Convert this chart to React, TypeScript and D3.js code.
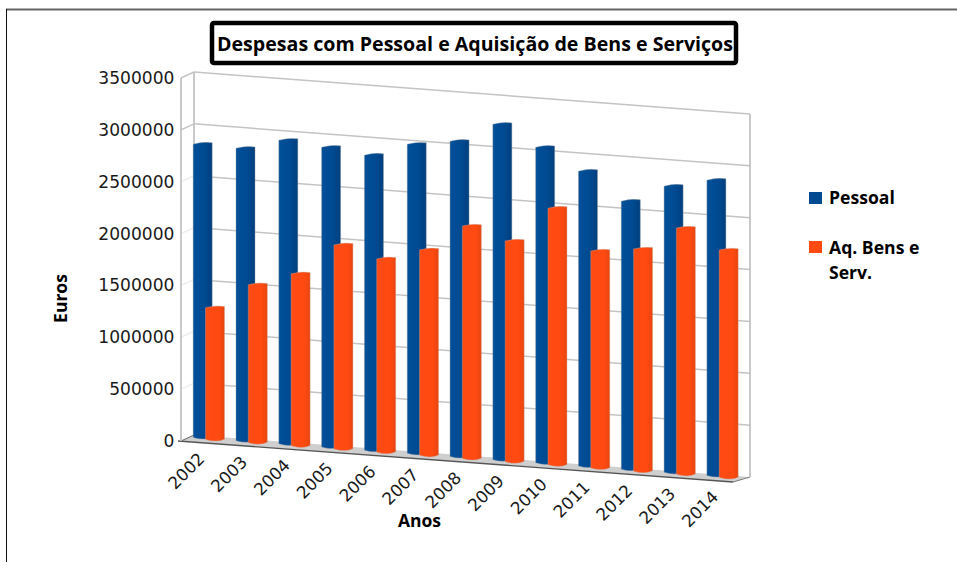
import React from "react";
import * as d3 from "d3";

const years = ["2002","2003","2004","2005","2006","2007","2008","2009","2010","2011","2012","2013","2014"];
const pessoal = [2856000,2847000,2955000,2918000,2872000,3008000,3067000,3261000,3070000,2870000,2612000,2787000,2875000];
const aquisicao = [1298000,1550000,1686000,1995000,1891000,2008000,2269000,2155000,2502000,2120000,2170000,2402000,2221000];
const yTicks = [0,500000,1000000,1500000,2000000,2500000,3000000,3500000];
const title = "Despesas com Pessoal e Aquisição de Bens e Serviços";
const BLUE = "#004a91";
const ORANGE = "#ff4a12";
const FONT = "'Open Sans', sans-serif";

// frame geometry
const backL = 194, backR = 750, frontL = 181, frontR = 733;
const backY0L = 435, frontY0L = 441, backY0R = 477, frontY0R = 482;
const h = d3.scaleLinear().domain([0, 3500000]).range([0, 363]);
const band = d3.scaleBand<string>().domain(years).range([172.5, 729]).paddingInner(0).paddingOuter(0);
const slope = (477 - 439) / (band("2014")! - band("2002")!);
const baseBlue = (y: string) => 439 + (band(y)! - band("2002")!) * slope;

function barPath(x: number, w: number, top: number, bottom: number) {
  const c = 2, b = 3;
  return `M${x},${top + c * 0.7}Q${x + w * 0.5},${top - c * 0.7} ${x + w},${top}L${x + w},${bottom - b * 0.6}Q${x + w * 0.6},${bottom + b * 0.6} ${x},${bottom - b * 0.5}Z`;
}

export default function App() {
  const wallY = (v: number, x: number) => backY0L + ((x - backL) / (backR - backL)) * (backY0R - backY0L) - h(v);
  const sideOff = frontY0L - backY0L;
  return (
    <svg width={957} height={562} style={{ position: "absolute", left: 0, top: 0, background: "#fff" }} fontFamily={FONT}>
      <defs>
        <linearGradient id="gb" x1="0" x2="1" y1="0" y2="0">
          <stop offset="0" stopColor="#005099" />
          <stop offset="0.6" stopColor={BLUE} />
          <stop offset="1" stopColor="#003f7d" />
        </linearGradient>
        <linearGradient id="go" x1="0" x2="1" y1="0" y2="0">
          <stop offset="0" stopColor="#ff4c14" />
          <stop offset="0.7" stopColor={ORANGE} />
          <stop offset="1" stopColor="#e8450f" />
        </linearGradient>
      </defs>
      <line x1={6} y1={9.5} x2={957} y2={9.5} stroke="#666" strokeWidth={2} />
      <line x1={6.5} y1={9} x2={6.5} y2={562} stroke="#111" strokeWidth={1} />
      <rect x={212} y={23} width={524} height={40} rx={2} fill="#fff" stroke="#000" strokeWidth={4.5} />
      <text x={475} y={51} textAnchor="middle" fontSize={20} fontWeight={700} fill="#000" textLength={516} lengthAdjust="spacingAndGlyphs">{title}</text>

      {/* floor */}
      <polygon points={`${frontL},${frontY0L} ${backL},${backY0L} ${backR},${backY0R} ${frontR},${frontY0R}`} fill="#cfcfcf" />
      <line x1={frontL - 3} y1={frontY0L} x2={frontR} y2={frontY0R} stroke="#555" strokeWidth={1.4} />
      <line x1={frontL} y1={frontY0L} x2={backL} y2={backY0L} stroke="#666" strokeWidth={1} />
      <line x1={frontR} y1={frontY0R} x2={backR} y2={backY0R} stroke="#777" strokeWidth={1} />

      {/* walls */}
      {yTicks.slice(1).map((t) => (
        <g key={t} fill="none" strokeWidth={1.5}>
          <line x1={frontL} y1={wallY(t, backL) + sideOff} x2={backL} y2={wallY(t, backL)} stroke={t >= 3000000 ? "#c4c4c4" : "#eeeeee"} />
          <line x1={backL} y1={wallY(t, backL)} x2={backR} y2={wallY(t, backR)} stroke="#c4c4c4" />
        </g>
      ))}
      <g stroke="#c0c0c0" strokeWidth={1.7}>
        <line x1={frontL} y1={frontY0L} x2={frontL} y2={wallY(3500000, backL) + sideOff} />
        <line x1={backL} y1={backY0L} x2={backL} y2={wallY(3500000, backL)} />
        <line x1={backR} y1={backY0R} x2={backR} y2={wallY(3500000, backR)} />
      </g>

      {/* bars */}
      {years.map((y, i) => {
        const x = band(y)!;
        const base = baseBlue(y);
        return (
          <g key={y}>
            <path d={barPath(x + 20.7, 19, base - h(pessoal[i]), base)} fill="url(#gb)" stroke="#8a94a0" strokeWidth={0.4} />
            <path d={barPath(x + 33, 19, base + 2 - h(aquisicao[i]), base + 2)} fill="url(#go)" stroke="#c9a090" strokeWidth={0.4} />
          </g>
        );
      })}

      {/* y axis */}
      {yTicks.map((t) => (
        <text key={t} x={174.5} y={wallY(t, backL) + sideOff + 6} textAnchor="end" fontSize={17.1} fontFamily="'DejaVu Sans', sans-serif" fill="#1a1a1a">{t}</text>
      ))}
      {/* x axis */}
      {years.map((y) => {
        const x = band(y)! + 33;
        const ty = baseBlue(y) + 21;
        return (
          <text key={y} transform={`translate(${x},${ty}) rotate(-45)`} textAnchor="end" fontSize={16.8} fontFamily="'DejaVu Sans', sans-serif" fill="#1a1a1a">{y}</text>
        );
      })}
      <text x={419.5} y={527} textAnchor="middle" fontSize={17.5} fontWeight={700} fill="#000">Anos</text>
      <text transform="translate(67,298.5) rotate(-90)" textAnchor="middle" fontSize={17.5} fontWeight={700} fill="#000">Euros</text>

      {/* legend */}
      <rect x={809} y={192} width={13} height={12} fill={BLUE} />
      <text x={829} y={204} fontSize={17.6} fontWeight={700} fill="#000">Pessoal</text>
      <rect x={809} y={241} width={13} height={12} fill={ORANGE} />
      <text x={829} y={254} fontSize={17.6} fontWeight={700} fill="#000">Aq. Bens e</text>
      <text x={829} y={279} fontSize={17.6} fontWeight={700} fill="#000">Serv.</text>
    </svg>
  );
}
